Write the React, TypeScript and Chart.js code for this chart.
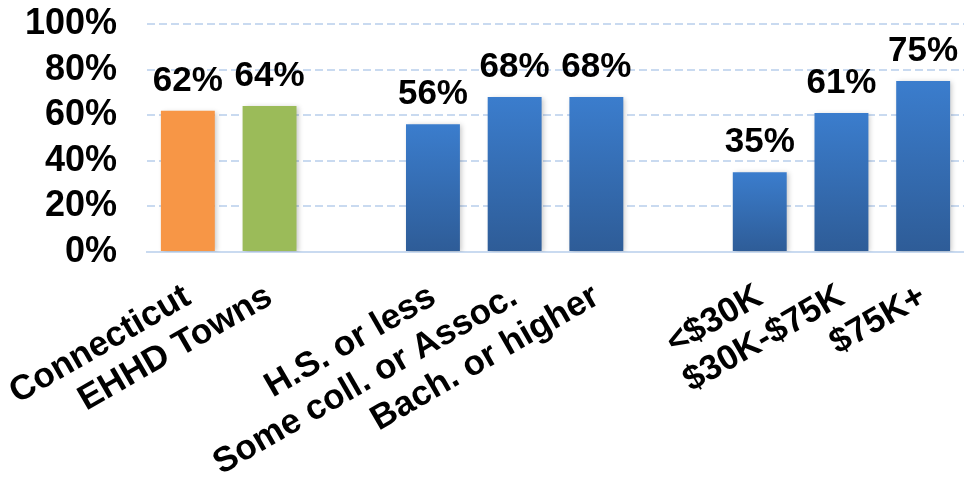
import React, { useEffect, useRef } from "react";
import { Chart, registerables } from "chart.js";

Chart.register(...registerables);

const categories = [
  "Connecticut",
  "EHHD Towns",
  "",
  "H.S. or less",
  "Some coll. or Assoc.",
  "Bach. or higher",
  "",
  "<$30K",
  "$30K-$75K",
  "$75K+",
];
const values: (number | null)[] = [62, 64, null, 56, 68, 68, null, 35, 61, 75];
const barKinds = ["orange", "green", "", "blue", "blue", "blue", "", "blue", "blue", "blue"];
const yTicks = [0, 20, 40, 60, 80, 100];

const FONT = "'Liberation Sans', Arial, sans-serif";

export default function App() {
  const ref = useRef<HTMLCanvasElement | null>(null);

  useEffect(() => {
    if (!ref.current) return;

    const shadowPlugin = {
      id: "barShadow",
      beforeDatasetsDraw(chart: any) {
        const ctx = chart.ctx;
        ctx.save();
        ctx.shadowColor = "rgba(0,0,0,0.22)";
        ctx.shadowBlur = 5;
        ctx.shadowOffsetX = 2;
        ctx.shadowOffsetY = 1;
      },
      afterDatasetsDraw(chart: any) {
        chart.ctx.restore();
      },
    };

    const labelPlugin = {
      id: "valueLabels",
      afterDatasetsDraw(chart: any) {
        const ctx = chart.ctx;
        const meta = chart.getDatasetMeta(0);
        ctx.save();
        ctx.shadowColor = "transparent";
        ctx.font = `bold 35px ${FONT}`;
        ctx.fillStyle = "#000";
        ctx.textAlign = "center";
        ctx.textBaseline = "alphabetic";
        meta.data.forEach((bar: any, i: number) => {
          const v = values[i];
          if (v == null) return;
          ctx.fillText(`${v}%`, bar.x, bar.y - 20);
        });
        ctx.restore();
      },
    };

    const chart = new Chart(ref.current, {
      type: "bar",
      data: {
        labels: categories,
        datasets: [
          {
            data: values as any,
            backgroundColor: (c: any) => {
              const kind = barKinds[c.dataIndex];
              if (kind === "orange") return "#f79646";
              if (kind === "green") return "#9bbb59";
              const chartObj = c.chart;
              const ys = chartObj.scales?.y;
              const v = values[c.dataIndex];
              if (!ys || v == null) return "#3a78c9";
              const top = ys.getPixelForValue(v);
              const bottom = ys.getPixelForValue(0);
              if (!isFinite(top) || !isFinite(bottom)) return "#3a78c9";
              const g = chartObj.ctx.createLinearGradient(0, top, 0, bottom);
              g.addColorStop(0, "#3b7dcd");
              g.addColorStop(1, "#2e5c97");
              return g;
            },
            borderWidth: 0,
            categoryPercentage: 1,
            barPercentage: 0.66,
          },
        ],
      },
      options: {
        animation: false,
        responsive: true,
        maintainAspectRatio: false,
        layout: { padding: { top: 24, right: 0, left: 0, bottom: 0 } },
        plugins: {
          legend: { display: false },
          tooltip: { enabled: false },
        },
        scales: {
          x: {
            grid: { display: false, drawTicks: false },
            border: { display: true, color: "#c9daf0", width: 2 },
            ticks: {
              autoSkip: false,
              maxRotation: 30,
              minRotation: 30,
              padding: 24,
              color: "#000",
              font: { family: FONT, size: 35, weight: "bold" },
            },
            afterFit: (s: any) => {
              s.height = 227;
              s.paddingLeft = 0;
              s.paddingRight = 0;
              s.paddingTop = 0;
              s.paddingBottom = 0;
            },
          },
          y: {
            min: 0,
            max: 100,
            afterBuildTicks: (s: any) => {
              s.ticks = yTicks.map((v) => ({ value: v }));
            },
            grid: {
              color: "#c9daf0",
              lineWidth: 2,
              drawTicks: false,
            },
            border: { display: false, dash: [8, 4] },
            ticks: {
              autoSkip: false,
              padding: 30,
              color: "#000",
              font: { family: FONT, size: 36, weight: "bold", lineHeight: 1 },
              callback: (v: any) => `${v}%`,
            },
            afterFit: (s: any) => {
              s.width = 147;
              s.paddingLeft = 0;
              s.paddingRight = 0;
              s.paddingTop = 0;
              s.paddingBottom = 0;
            },
          },
        },
      },
      plugins: [shadowPlugin, labelPlugin],
    });

    return () => chart.destroy();
  }, []);

  return (
    <div style={{ position: "fixed", left: 0, top: 0, width: 964, height: 479, background: "#fff" }}>
      <canvas ref={ref} />
    </div>
  );
}
